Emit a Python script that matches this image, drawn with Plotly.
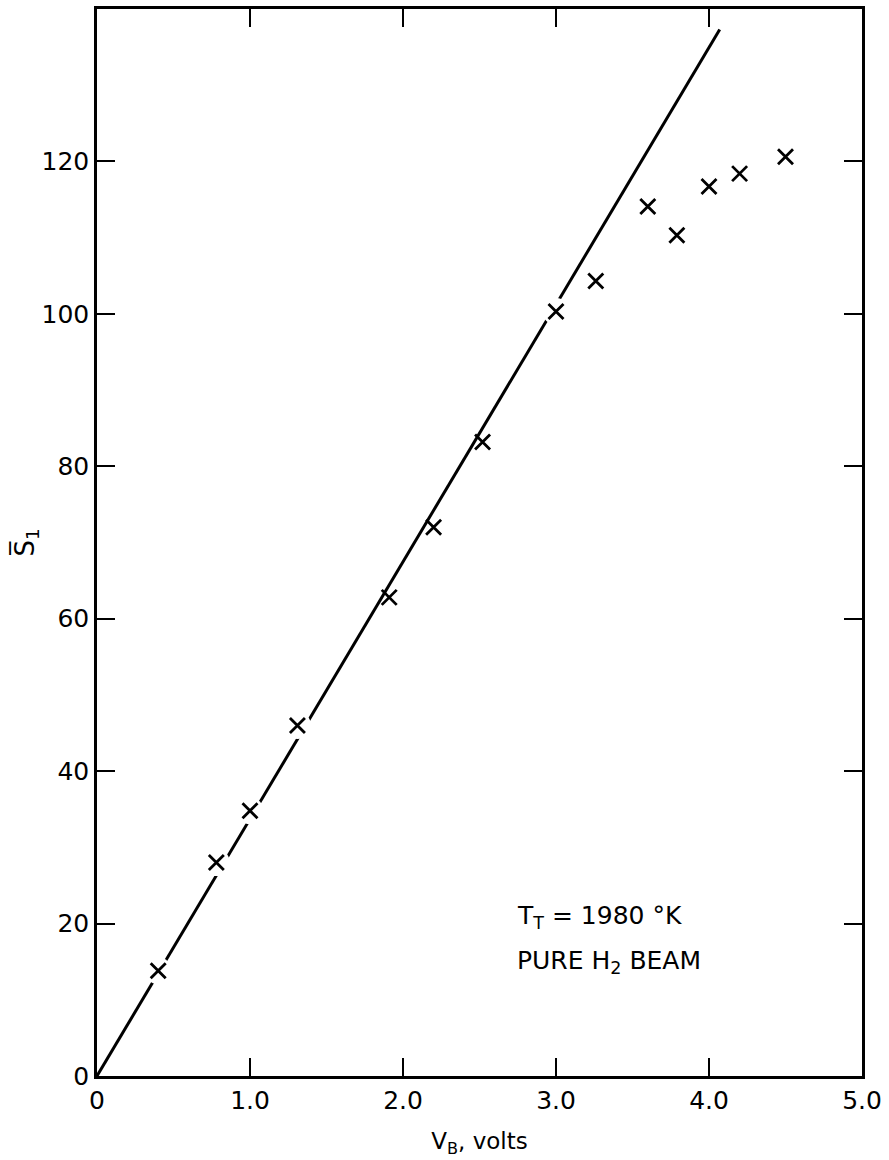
import plotly.graph_objects as go

# Measured mean signal S1 versus beam voltage V_B (pure H2 beam, T_T = 1980 K)
v_b = [0.40, 0.78, 1.00, 1.31, 1.91, 2.20, 2.52, 3.00, 3.26, 3.60, 3.79, 4.00, 4.20, 4.50]
s_1 = [13.8, 28.0, 34.8, 46.0, 62.8, 72.0, 83.2, 100.3, 104.3, 114.1, 110.3, 116.7, 118.4, 120.6]

# Straight-line fit through the origin
fit_v = [0.0, 4.07]
fit_s = [0.0, 137.3]

# Points where the drawn fit line is interrupted around the marker
line_break = [True, True, True, True, False, False, False, True,
              False, False, False, False, False, False]

x_ticks = [0, 1, 2, 3, 4, 5]
x_tick_text = ["0", "1.0", "2.0", "3.0", "4.0", "5.0"]
y_ticks = [0, 20, 40, 60, 80, 100, 120]
y_tick_text = ["0", "20", "40", "60", "80", "100", "120"]

FONT = "DejaVu Sans"
INK = "black"

fig = go.Figure()

fig.add_trace(go.Scatter(
    x=fit_v, y=fit_s, mode="lines",
    line=dict(color=INK, width=3),
    hoverinfo="skip", showlegend=False,
))

# white discs that open the fit line around selected markers
gap_v = [v for v, b in zip(v_b, line_break) if b]
gap_s = [s for s, b in zip(s_1, line_break) if b]
fig.add_trace(go.Scatter(
    x=gap_v, y=gap_s, mode="markers",
    marker=dict(symbol="circle", size=27, color="white", line=dict(width=0)),
    hoverinfo="skip", showlegend=False,
))

fig.add_trace(go.Scatter(
    x=v_b, y=s_1, mode="markers",
    marker=dict(symbol="x-thin", size=15, line=dict(color=INK, width=2.8)),
    showlegend=False,
))

axis_common = dict(
    showgrid=False, zeroline=False, automargin=False,
    showline=True, linecolor=INK, linewidth=2.5, mirror="ticks",
    ticks="inside", ticklen=18, tickwidth=2, tickcolor=INK,
    tickfont=dict(family=FONT, size=25, color=INK),
)

fig.update_xaxes(
    range=[0, 5], tickvals=x_ticks, ticktext=x_tick_text,
    title=dict(text="V<sub>B</sub>, volts", font=dict(family=FONT, size=23, color=INK), standoff=20),
    **axis_common,
)
fig.update_yaxes(
    range=[0, 140], tickvals=y_ticks, ticktext=y_tick_text,
    title=dict(text="S\u0305<sub>1</sub>", font=dict(family=FONT, size=26, color=INK), standoff=0),
    **axis_common,
)

fig.add_annotation(
    x=2.73, y=20.9, xref="x", yref="y", xanchor="left", yanchor="middle",
    text="T<sub>T</sub> = 1980 °K", showarrow=False,
    font=dict(family=FONT, size=25, color=INK),
)
fig.add_annotation(
    x=2.73, y=15.0, xref="x", yref="y", xanchor="left", yanchor="middle",
    text="PURE H<sub>2</sub> BEAM", showarrow=False,
    font=dict(family=FONT, size=25, color=INK),
)

fig.update_layout(
    width=889, height=1160,
    margin=dict(l=97, r=27, t=9, b=84),
    paper_bgcolor="white", plot_bgcolor="white",
)

fig.write_html("out.html")
